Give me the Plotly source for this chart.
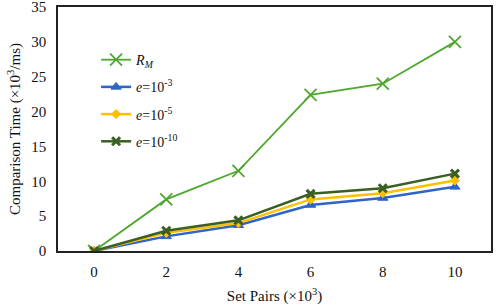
import plotly.graph_objects as go

set_pairs = [0, 2, 4, 6, 8, 10]
r_m = [0, 7.4, 11.5, 22.4, 24.0, 30.0]
e_3 = [0, 2.1, 3.7, 6.6, 7.6, 9.2]
e_5 = [0, 2.6, 4.0, 7.4, 8.3, 10.1]
e_10 = [0, 2.9, 4.4, 8.2, 9.0, 11.1]

x_ticks = [0, 2, 4, 6, 8, 10]
y_ticks = [0, 5, 10, 15, 20, 25, 30, 35]

series = [
    ("<i>R<sub>M</sub></i>", r_m, "#4EA72E", "x-thin-open", 12, 1.8, 1.8),
    ("<i>e</i>=10<sup>-3</sup>", e_3, "#2F64C8", "triangle-up", 9, 2.5, 1),
    ("<i>e</i>=10<sup>-5</sup>", e_5, "#FFC000", "diamond", 7, 2.5, 1),
    ("<i>e</i>=10<sup>-10</sup>", e_10, "#3A5F24", "x-thin-open", 8, 2.5, 3),
]

fig = go.Figure()
for i, (name, vals, color, sym, size, lw, mlw) in enumerate(series):
    fig.add_trace(go.Scatter(
        x=set_pairs, y=vals, name=name, mode="lines+markers",
        line=dict(color=color, width=lw),
        marker=dict(symbol=sym, size=size, color=color,
                    line=dict(color=color, width=mlw)),
        legendgroup=f"g{i}",
    ))

font_family = "Liberation Serif"
fig.update_layout(
    width=498, height=307,
    margin=dict(l=58, r=7, t=7, b=56, autoexpand=False),
    paper_bgcolor="white", plot_bgcolor="white",
    font=dict(family=font_family, size=15, color="#111"),
    showlegend=True,
    legend=dict(x=0.088, y=0.848, xanchor="left", yanchor="top",
                bgcolor="rgba(0,0,0,0)", tracegroupgap=6,
                font=dict(family=font_family, size=14)),
    xaxis=dict(range=[-1, 11], tickvals=x_ticks, showgrid=False,
               zeroline=False, showline=True, linecolor="#222", linewidth=1.5,
               mirror=True, ticks="outside", ticklen=6, tickcolor="white",
               automargin=False, ticklabeloverflow="allow",
               title=dict(text="Set Pairs (×10<sup>3</sup>)", standoff=12,
                          font=dict(size=15))),
    yaxis=dict(range=[0, 35], tickvals=y_ticks, showgrid=False,
               zeroline=False, showline=True, linecolor="#222", linewidth=1.5,
               mirror=True, ticks="outside", ticklen=7, tickcolor="white",
               automargin=False, ticklabeloverflow="allow",
               title=dict(text="Comparison Time (×10<sup>3</sup>/ms)", standoff=7,
                          font=dict(size=15))),
)

fig.write_html("out.html", config={"displayModeBar": False},
               post_script="document.body.style.margin='0';")
